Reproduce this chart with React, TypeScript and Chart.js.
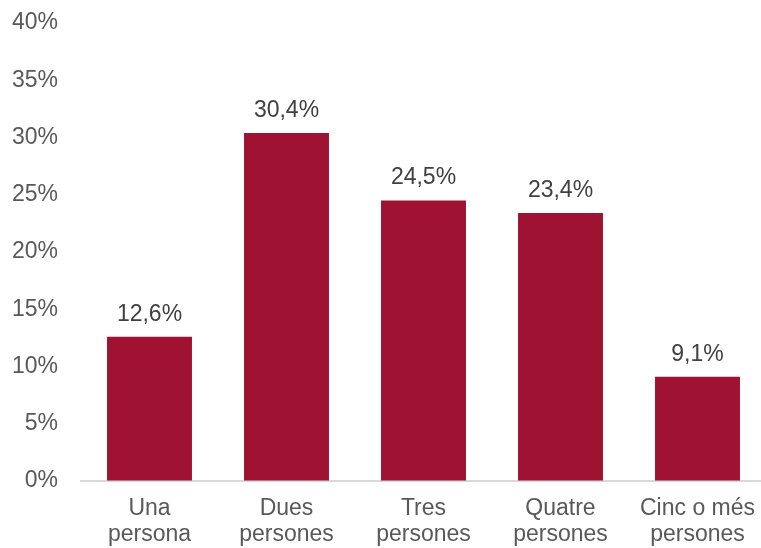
import React, { useEffect, useRef } from "react";
import { Chart, registerables } from "chart.js";

Chart.register(...registerables);

const categories: string[][] = [
  ["Una", "persona"],
  ["Dues", "persones"],
  ["Tres", "persones"],
  ["Quatre", "persones"],
  ["Cinc o més", "persones"],
];
const values: number[] = [12.6, 30.4, 24.5, 23.4, 9.1];
const valueLabels: string[] = ["12,6%", "30,4%", "24,5%", "23,4%", "9,1%"];

const FONT = "'Liberation Sans', Arial, sans-serif";
const TEXT = "#595959";
const BAR = "#A01231";

const valueLabelPlugin = {
  id: "valueLabels",
  afterDatasetsDraw(chart: any) {
    const ctx = chart.ctx;
    const meta = chart.getDatasetMeta(0);
    ctx.save();
    ctx.font = `23px ${FONT}`;
    ctx.fillStyle = "#404040";
    ctx.textAlign = "center";
    ctx.textBaseline = "alphabetic";
    meta.data.forEach((bar: any, i: number) => {
      ctx.fillText(valueLabels[i], bar.x, bar.y - 16);
    });
    ctx.restore();
  },
};

export default function App() {
  const ref = useRef<HTMLCanvasElement | null>(null);
  useEffect(() => {
    if (!ref.current) return;
    const chart = new Chart(ref.current, {
      type: "bar",
      data: {
        labels: categories,
        datasets: [
          {
            data: values,
            backgroundColor: BAR,
            borderWidth: 0,
            categoryPercentage: 1,
            barPercentage: 0.62,
          },
        ],
      },
      options: {
        animation: false,
        responsive: false,
        maintainAspectRatio: false,
        layout: { padding: { top: 23, bottom: 0, left: 0, right: 0 } },
        plugins: { legend: { display: false }, tooltip: { enabled: false } },
        scales: {
          y: {
            min: 0,
            max: 40,
            ticks: {
              stepSize: 5,
              color: TEXT,
              font: { family: FONT, size: 23 },
              padding: 0,
              callback: (v: any) => `${v}%`,
            },
            grid: {
              display: true,
              drawOnChartArea: false,
              drawTicks: true,
              tickLength: 23,
              tickColor: "rgba(0,0,0,0)",
            },
            border: { display: false },
            afterFit: (scale: any) => {
              scale.width = 81;
            },
          },
          x: {
            ticks: {
              color: TEXT,
              font: { family: FONT, size: 23, lineHeight: 1.13 },
              padding: 0,
              maxRotation: 0,
              autoSkip: false,
            },
            grid: {
              display: true,
              drawOnChartArea: false,
              drawTicks: true,
              tickLength: 15,
              tickColor: "rgba(0,0,0,0)",
            },
            border: { display: true, color: "#D9D9D9", width: 2 },
            afterFit: (scale: any) => {
              scale.height = 67;
            },
          },
        },
      },
      plugins: [valueLabelPlugin],
    });
    return () => chart.destroy();
  }, []);
  return (
    <div
      style={{
        position: "absolute",
        left: 0,
        top: 0,
        width: 761,
        height: 548,
        overflow: "hidden",
        background: "#fff",
      }}
    >
      <canvas ref={ref} width={766} height={548} style={{ display: "block" }} />
    </div>
  );
}
